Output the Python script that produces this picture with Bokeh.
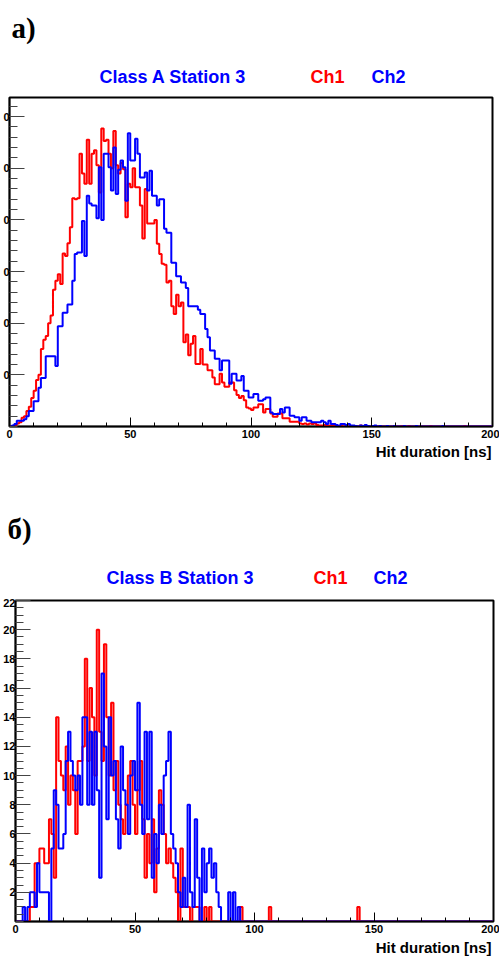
from bokeh.plotting import figure
from bokeh.layouts import column
from bokeh.models import Range1d, FixedTicker
from bokeh.core.properties import value
from bokeh.embed import file_html
from bokeh.resources import INLINE

# ---------------- data ----------------
bin_edges = list(range(0, 201))          # 1 ns bins, 0..200 ns

x_ticks = [0, 50, 100, 150, 200]
x_minor = list(range(0, 201, 10))

# Panel a) Class A Station 3
a_title = "Class A Station 3"
a_ch1 = [0, 0, 3, 6, 8, 17, 20, 30, 38, 55,
         69, 90, 100, 150, 168, 175, 200, 215, 265, 282,
         295, 276, 335, 330, 355, 386, 442, 440, 442, 528,
         490, 470, 555, 470, 528, 535, 506, 453, 577, 553,
         555, 528, 500, 572, 506, 490, 510, 498, 405, 470,
         463, 500, 463, 463, 428, 364, 460, 393, 393, 393,
         400, 354, 334, 315, 313, 279, 282, 233, 218, 255,
         233, 240, 163, 178, 138, 160, 175, 121, 121, 150,
         120, 120, 109, 109, 95, 82, 82, 102, 85, 77,
         77, 85, 85, 70, 61, 55, 59, 51, 37, 35,
         32, 37, 37, 43, 43, 27, 34, 34, 25, 19,
         19, 25, 25, 16, 16, 16, 9, 9, 9, 9,
         6, 5, 6, 4, 6, 5, 6, 3, 2, 2,
         3, 1, 2, 2, 1, 2, 0, 1, 0, 1,
         0, 0, 1, 0, 0, 2, 0, 0, 1, 0,
         0, 0, 0, 1, 0, 0, 0, 0, 0, 0,
         0, 0, 1, 0, 0, 1, 0, 0, 0, 0,
         0, 0, 0, 0, 1, 0, 0, 0, 0, 0,
         0, 0, 0, 0, 0, 0, 0, 0, 1, 0,
         0, 0, 0, 0, 0, 0, 0, 0, 0, 0]
a_ch2 = [0, 2, 5, 11, 11, 11, 14, 20, 30, 30,
         49, 49, 75, 94, 94, 136, 136, 136, 136, 117,
         194, 194, 220, 220, 236, 236, 282, 334, 337, 337,
         398, 330, 447, 432, 428, 428, 403, 502, 400, 528,
         528, 502, 457, 540, 450, 497, 515, 502, 437, 568,
         515, 515, 557, 528, 482, 482, 492, 457, 495, 447,
         447, 428, 440, 440, 383, 375, 375, 317, 317, 291,
         291, 279, 279, 268, 233, 233, 233, 233, 226, 218,
         218, 189, 173, 147, 147, 131, 131, 109, 128, 128,
         128, 83, 102, 102, 89, 89, 98, 69, 69, 56,
         56, 63, 63, 50, 50, 53, 56, 56, 27, 24,
         24, 24, 34, 27, 37, 37, 21, 21, 18, 18,
         11, 18, 18, 11, 11, 8, 8, 8, 8, 11,
         8, 5, 11, 5, 5, 3, 0, 5, 5, 3,
         5, 2, 2, 1, 0, 2, 1, 3, 1, 0,
         1, 2, 0, 1, 0, 0, 1, 0, 0, 1,
         0, 0, 0, 1, 0, 0, 0, 0, 1, 0,
         0, 0, 0, 0, 0, 0, 0, 0, 0, 1,
         0, 0, 0, 0, 0, 0, 0, 0, 0, 0,
         0, 0, 0, 0, 0, 0, 0, 0, 0, 0]
a_ymax = 637
a_yticks = [100, 200, 300, 400, 500, 600]
# the labels of panel a) run off the left edge of the original; only "0" shows
a_ytick_labels = {t: "0" for t in a_yticks}

# Panel б) Class B Station 3
b_title = "Class B Station 3"
b_ch1 = [0, 0, 0, 0, 0, 0, 1, 1, 4, 4,
         5, 5, 4, 4, 7, 6, 3, 14, 11, 10,
         9, 12, 8, 10, 9, 6, 11, 11, 12, 18,
         11, 16, 14, 10, 20, 13, 11, 19, 14, 10,
         15, 9, 11, 8, 7, 6, 8, 10, 11, 8,
         6, 9, 11, 7, 3, 6, 4, 7, 2, 5,
         9, 8, 6, 4, 5, 4, 3, 2, 0, 5,
         1, 1, 1, 0, 1, 1, 1, 0, 0, 1,
         0, 1, 0, 0, 0, 0, 0, 0, 0, 0,
         0, 0, 0, 0, 1, 0, 0, 0, 0, 0,
         0, 0, 0, 0, 0, 0, 1, 0, 0, 0,
         0, 0, 0, 0, 0, 0, 0, 0, 0, 0,
         0, 0, 0, 0, 0, 0, 0, 0, 0, 0,
         0, 0, 0, 0, 0, 0, 0, 0, 0, 0,
         0, 0, 0, 1, 0, 0, 0, 0, 0, 0,
         0, 0, 0, 0, 0, 0, 0, 0, 0, 0,
         0, 0, 0, 0, 0, 0, 0, 0, 0, 0,
         0, 0, 0, 0, 0, 0, 0, 0, 0, 0,
         0, 0, 0, 0, 0, 0, 0, 0, 0, 0,
         0, 0, 0, 0, 0, 0, 0, 0, 0, 0]
b_ch2 = [0, 0, 0, 1, 0, 1, 2, 2, 1, 4,
         2, 2, 2, 2, 0, 5, 9, 8, 5, 5,
         6, 11, 13, 11, 10, 9, 10, 8, 14, 14,
         8, 13, 8, 13, 9, 3, 17, 12, 7, 14,
         10, 11, 7, 5, 12, 9, 8, 6, 10, 11,
         9, 15, 8, 6, 13, 7, 13, 3, 6, 4,
         8, 6, 10, 11, 13, 6, 5, 4, 2, 1,
         3, 1, 8, 2, 1, 7, 3, 0, 5, 2,
         4, 5, 3, 4, 2, 1, 0, 0, 0, 2,
         0, 2, 0, 1, 0, 0, 0, 0, 0, 0,
         0, 0, 0, 0, 0, 0, 0, 0, 0, 0,
         0, 0, 0, 0, 0, 0, 0, 0, 0, 0,
         0, 0, 0, 0, 0, 0, 0, 0, 0, 0,
         0, 0, 0, 0, 0, 0, 0, 0, 0, 0,
         0, 0, 0, 0, 0, 0, 0, 0, 0, 0,
         0, 0, 0, 0, 0, 0, 0, 0, 0, 0,
         0, 0, 0, 0, 0, 0, 0, 0, 0, 0,
         0, 0, 0, 0, 0, 0, 0, 0, 0, 0,
         0, 0, 0, 0, 0, 0, 0, 0, 0, 0,
         0, 0, 0, 0, 0, 0, 0, 0, 0, 0]
b_ymax = 22
b_yticks = [2, 4, 6, 8, 10, 12, 14, 16, 18, 20, 22]

x_axis_title = "Hit duration [ns]"
ch_labels = ["Ch1", "Ch2"]
ch_colors = ["#ff0000", "#0000ff"]

SANS = "Liberation Sans"
SERIF = "Liberation Serif"
W = 499


def strip(height):
    """A figure without axes used only to hold texts (x, y in page pixels)."""
    s = figure(width=W, height=height,
               x_range=Range1d(0, W), y_range=Range1d(height, 0),
               min_border=0, x_axis_location=None, y_axis_location=None,
               output_backend="svg", toolbar_location=None)
    s.grid.visible = False
    s.outline_line_color = None
    s.background_fill_color = "white"
    s.border_fill_color = "white"
    return s


def add_text(s, x, y, txt, color="black", size="18px", font=SANS, align="left"):
    s.text(x=[x], y=[y], text=[txt], text_color=color, text_font=value(font),
           text_font_style="bold", text_font_size=value(size),
           text_align=align, text_baseline="middle")


def header(s, x_letter, y_letter, y_title, letter, title, xs):
    add_text(s, x_letter, y_letter, letter, size="29px", font=SERIF)
    add_text(s, xs[0], y_title, title, color=ch_colors[1])
    add_text(s, xs[1], y_title, ch_labels[0], color=ch_colors[0])
    add_text(s, xs[2], y_title, ch_labels[1], color=ch_colors[1])


def panel(ch1, ch2, ymax, yticks, yminor_step, height, bottom, left, right,
          lab_size, lab_standoff, overrides=None):
    p = figure(x_range=Range1d(0, 200), y_range=Range1d(0, ymax),
               width=W, height=height,
               min_border_left=left, min_border_right=right,
               min_border_top=2, min_border_bottom=bottom,
               output_backend="svg", toolbar_location=None)
    p.grid.visible = False
    p.background_fill_color = "white"
    p.border_fill_color = "white"
    p.outline_line_color = "black"
    p.outline_line_width = 2

    xa = p.xaxis[0]
    xa.ticker = FixedTicker(ticks=x_ticks, minor_ticks=x_minor)
    xa.major_tick_in = 9
    xa.major_tick_out = 0
    xa.minor_tick_in = 4
    xa.minor_tick_out = 0
    xa.major_tick_line_color = "black"
    xa.minor_tick_line_color = "black"
    xa.axis_line_color = "black"
    xa.axis_line_width = 1.5
    xa.major_label_text_font = SANS
    xa.major_label_text_font_style = "bold"
    xa.major_label_text_font_size = "11px"
    xa.major_label_text_color = "black"
    xa.major_label_standoff = 3

    ya = p.yaxis[0]
    minors = []
    v = 0.0
    while v <= ymax + 1e-9:
        minors.append(round(v, 3))
        v += yminor_step
    ya.ticker = FixedTicker(ticks=yticks, minor_ticks=minors)
    ya.major_tick_in = 15
    ya.major_tick_out = 0
    ya.minor_tick_in = 8
    ya.minor_tick_out = 0
    ya.major_tick_line_color = "#444444"
    ya.minor_tick_line_color = "#444444"
    ya.axis_line_color = "black"
    ya.axis_line_width = 1.5
    ya.major_label_text_font = SANS
    ya.major_label_text_font_style = "bold"
    ya.major_label_text_color = "black"
    ya.major_label_text_font_size = lab_size
    ya.major_label_standoff = lab_standoff
    if overrides:
        ya.major_label_overrides = overrides

    ys1 = list(ch1) + [ch1[-1]]
    ys2 = list(ch2) + [ch2[-1]]
    p.step(x=bin_edges, y=ys1, mode="after", line_color=ch_colors[0], line_width=2)
    p.step(x=bin_edges, y=ys2, mode="after", line_color=ch_colors[1], line_width=2)
    return p


h1 = strip(95)
header(h1, 11, 27, 76, "a)", a_title, [99, 310, 371])

p1 = panel(a_ch1, a_ch2, a_ymax, a_yticks, 20, height=347, bottom=16,
           left=8, right=7, lab_size="11px", lab_standoff=0,
           overrides=a_ytick_labels)

h2 = strip(156)
add_text(h2, 491, 9, x_axis_title, size="15px", align="right")
header(h2, 7, 86, 135.5, "б)", b_title, [106, 313, 373])

p2 = panel(b_ch1, b_ch2, b_ymax, b_yticks, 0.5, height=338, bottom=15,
           left=15, right=6, lab_size="11px", lab_standoff=0)

f2 = strip(20)
add_text(f2, 491, 11, x_axis_title, size="15px", align="right")

# each figure sits in its own column so that their borders are not aligned
layout = column(column(h1), column(p1), column(h2), column(p2), column(f2),
                spacing=0)
open("out.html", "w").write(file_html(layout, INLINE))
